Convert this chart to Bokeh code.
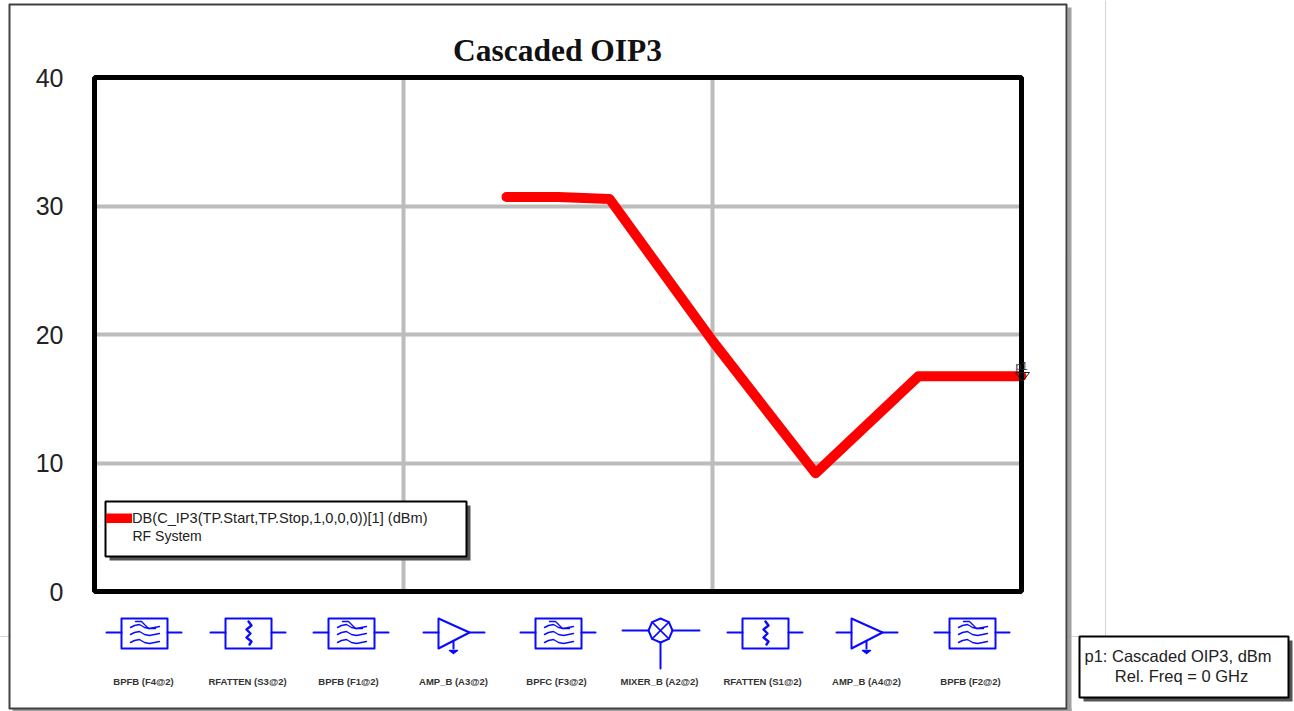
from bokeh.plotting import figure
from bokeh.embed import file_html
from bokeh.resources import INLINE
from bokeh.models import (Range1d, FixedTicker, BoxAnnotation, Label, PolyAnnotation,
                          Legend, LegendItem, LinearAxis, Grid)

# ---- data ----
stage_pos = [4, 4.5, 5, 6, 7, 8, 9]
oip3_dbm = [30.7, 30.7, 30.55, 19.5, 9.2, 16.75, 16.75]
y_ticks = [0, 10, 20, 30, 40]
x_grid = [3, 6]
y_grid = [10, 20, 30]
title_text = "Cascaded OIP3"
legend_line1 = "DB(C_IP3(TP.Start,TP.Stop,1,0,0,0))[1] (dBm)"
legend_line2 = "RF System"
note_line1 = "p1: Cascaded OIP3, dBm"
note_line2 = "Rel. Freq = 0 GHz"
comp_names = ["BPFB (F4@2)", "RFATTEN (S3@2)", "BPFB (F1@2)", "AMP_B (A3@2)", "BPFC (F3@2)",
              "MIXER_B (A2@2)", "RFATTEN (S1@2)", "AMP_B (A4@2)", "BPFB (F2@2)"]
comp_kinds = ["bpf", "att", "bpf", "amp", "bpf", "mix", "att", "amp", "bpf"]
comp_label_x = [143, 247, 348, 453, 556, 659, 762, 866, 970]
comp_left_x = [106, 210, 313, 423, 520, 622, 727, 836, 934]

W, H = 1294, 711
L, R, T, B = 94, 1021, 77, 591
sx = (R - L) / 9
sy = (B - T) / 40

p = figure(width=W, height=H, output_backend="svg", toolbar_location=None,
           x_range=Range1d(-L / sx, (W - L) / sx), y_range=Range1d(-(H - B) / sy, B / sy),
           min_border=0, background_fill_color="white", border_fill_color="white",
           x_axis_type=None, y_axis_type=None)
p.outline_line_color = None
p.title = None

ax = LinearAxis(fixed_location=0, ticker=FixedTicker(ticks=y_ticks))
ax.axis_line_color = None
ax.major_tick_line_color = None
ax.minor_tick_line_color = None
ax.major_label_text_font = "Liberation Sans"
ax.major_label_text_font_size = "25px"
ax.major_label_text_color = "#222222"
ax.major_label_standoff = 25
p.add_layout(ax, "left")

xg = Grid(dimension=0, ticker=FixedTicker(ticks=x_grid), cross_bounds=(0, 40))
yg = Grid(dimension=1, ticker=FixedTicker(ticks=y_grid), cross_bounds=(0, 9))
for g in (xg, yg):
    g.grid_line_color = "#bcbcbc"
    g.grid_line_width = 4
    p.add_layout(g)

line = p.line(stage_pos, oip3_dbm, line_color="#ff0000", line_width=10, line_join="round", line_cap="round")


def box(l, t, r, b, fill=None, line_c=None, lw=1):
    p.add_layout(BoxAnnotation(left=l, right=r, top=t, bottom=b,
                               left_units="canvas", right_units="canvas", top_units="canvas", bottom_units="canvas",
                               fill_color=fill if fill else "white", fill_alpha=1 if fill else 0,
                               line_color=line_c, line_width=lw, line_alpha=1 if line_c else 0,
                               editable=False))


def poly(pts, color="#0a0aff", lw=2, closed=False, fill=None):
    xs = [a for a, _ in pts]
    ys = [b for _, b in pts]
    if not closed:
        xs = xs + xs[::-1]
        ys = ys + ys[::-1]
    p.add_layout(PolyAnnotation(xs=xs, ys=ys, xs_units="canvas", ys_units="canvas",
                                line_color=color, line_width=lw, line_join="round", line_alpha=1,
                                fill_color=fill if fill else "white", fill_alpha=1 if fill else 0))


def text(x, y, s, size, font="Liberation Sans", style="normal", align="left", color="#222222"):
    p.add_layout(Label(x=x, y=y, x_units="canvas", y_units="canvas", text=s, text_font=font,
                       text_font_size=size, text_font_style=style, text_align=align,
                       text_baseline="middle", text_color=color))


# plot frame
box(L, T, R, B, line_c="black", lw=5)

# page furniture
poly([(1105, 0), (1105, 636)], color="#d4d4d4", lw=1)
poly([(0, 636), (9, 636)], color="#d4d4d4", lw=1)
poly([(1066, 636), (1080, 636)], color="#d4d4d4", lw=1)
box(1067, 7, 1071, 711, fill="#a0a0a0")
box(12, 708, 1071, 711, fill="#a0a0a0")
poly([(9, 4), (1066, 4), (1066, 708), (9, 708)], color="#404040", lw=2, closed=True)

text(557, 50, title_text, "31.5px", font="Liberation Serif", style="bold", align="center", color="#111111")

# legend
box(109, 505, 470, 560, fill="#555555")
box(105, 501, 466, 556, fill="white", line_c="black", lw=2)
legend = Legend(items=[LegendItem(label=legend_line1, renderers=[line])], location=(106, H - 526),
                orientation="vertical")
legend.background_fill_alpha = 0
legend.border_line_alpha = 0
legend.padding = 0
legend.margin = 0
legend.glyph_width = 26
legend.glyph_height = 10
legend.label_height = 10
legend.label_standoff = 0
legend.label_text_font = "Liberation Sans"
legend.label_text_font_size = "14.6px"
legend.label_text_color = "#222222"
p.add_layout(legend, "center")
text(132, 535, legend_line2, "14px")

# marker
text(1015, 365, "p1", "11px", color="#333333")
poly([(1015, 372), (1029, 372), (1022, 381)], color="#222222", lw=1, closed=True)

# readout box
box(1083, 640, 1292, 701, fill="#555555")
box(1079, 636, 1288, 697, fill="white", line_c="black", lw=2)
text(1084, 655, note_line1, "16.5px")
text(1181, 675, note_line2, "16.5px", align="center")


# schematic symbols
def wiggle_filter(bx):
    for i, yy in enumerate((626, 633, 641)):
        x0 = bx + 9
        pts = [(x0, yy + 1), (x0 + 4, yy - 1), (x0 + 9, yy - 2), (x0 + 14, yy + 1), (x0 + 19, yy + 2),
               (x0 + 24, yy + 1), (x0 + 29, yy)]
        poly(pts, lw=1.4)
    poly([(bx + 14, 621), (bx + 20, 621), (bx + 27, 628), (bx + 34, 628)], lw=1.4)


for kind, x, nm, lx in zip(comp_kinds, comp_left_x, comp_names, comp_label_x):
    text(lx, 681, nm, "9.5px", style="bold", align="center", color="#333333")
    if kind in ("bpf", "att"):
        a, b = x + 15, x + 61
        poly([(a, 618), (b, 618), (b, 648), (a, 648)], closed=True)
        poly([(x, 632), (a, 632)])
        poly([(b, 632), (b + 14, 632)])
        if kind == "bpf":
            wiggle_filter(a)
        else:
            c = (a + b) / 2
            poly([(c, 621), (c + 3, 625), (c - 2, 629), (c + 2, 633), (c - 2, 637), (c + 3, 641), (c + 1, 644)], lw=2.4)
    elif kind == "amp":
        a, b = x + 15, x + 46
        poly([(a, 618), (b, 632), (a, 648)], closed=True)
        poly([(x, 632), (a, 632)])
        poly([(b, 632), (b + 15, 632)])
        g = a + 15
        poly([(g, 641), (g, 648)])
        poly([(g - 4, 650), (g + 4, 650), (g, 653)], lw=1.5, closed=True, fill="#0a0aff")
    else:
        cx, cy, r = x + 38, 630, 12
        poly([(cx - r, cy), (cx - r * .7, cy - r * .7), (cx, cy - r), (cx + r * .7, cy - r * .7), (cx + r, cy),
              (cx + r * .7, cy + r * .7), (cx, cy + r), (cx - r * .7, cy + r * .7)], closed=True)
        poly([(cx - r * .7, cy - r * .7), (cx + r * .7, cy + r * .7)], lw=1.5)
        poly([(cx - r * .7, cy + r * .7), (cx + r * .7, cy - r * .7)], lw=1.5)
        poly([(x, cy), (cx - r, cy)])
        poly([(cx + r, cy), (cx + 39, cy)])
        poly([(cx, cy + r), (cx, 668)])

open("out.html", "w").write(file_html(p, INLINE))
